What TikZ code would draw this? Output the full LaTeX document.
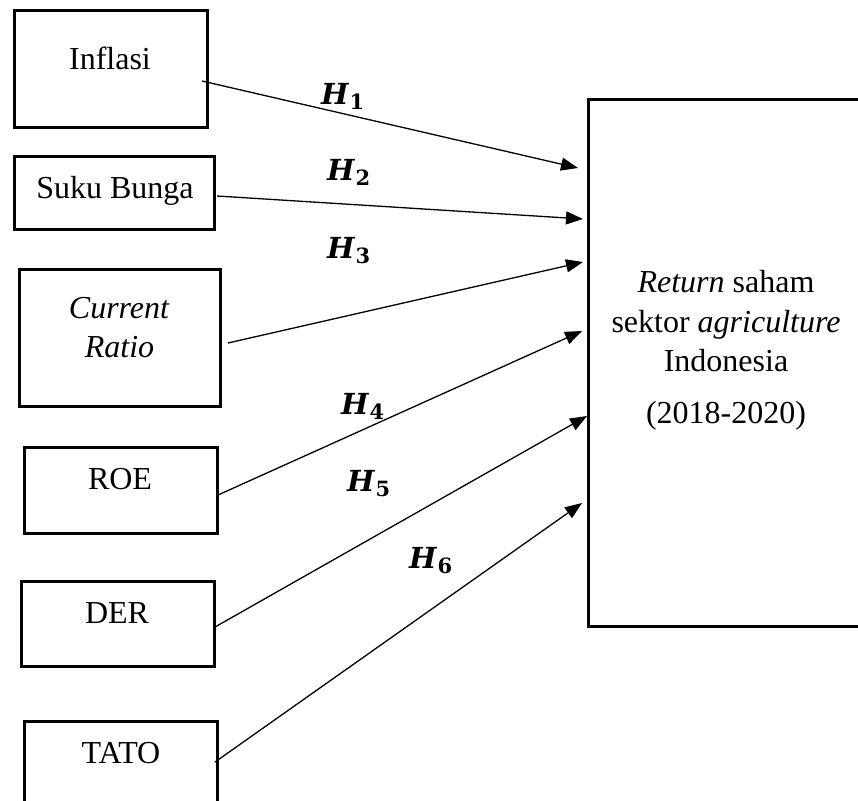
\documentclass[tikz,border=0pt]{standalone}
\usepackage{fontspec}
\setmainfont{Liberation Serif}
\newfontfamily\hypfont{DejaVu Serif}
\usetikzlibrary{arrows.meta}
\newcommand{\hyplabel}[1]{{\hypfont\bfseries\itshape H}\kern1pt{\hypfont\bfseries\fontsize{21}{24}\selectfont\raisebox{-5pt}{#1}}}
\begin{document}
\begin{tikzpicture}[x=1pt,y=-1pt,
  box/.style={draw, line width=3pt, inner sep=0pt},
  lbl/.style={font=\fontsize{32}{38}\selectfont, inner sep=0pt, anchor=base},
  hyp/.style={font=\fontsize{29}{34}\selectfont, inner sep=0pt, anchor=base west},
  link/.style={line width=1.3pt, -{Triangle[length=17pt,width=13pt]}}]
\useasboundingbox (0,0) rectangle (858,800);
\fill[white] (0,0) rectangle (858,800);
\clip (0,0) rectangle (858,800);

% boxes
\node[box, minimum width=193pt, minimum height=116pt] (inflasi) at (110.5,69) {};
\node[box, minimum width=200pt, minimum height=73pt] (suku) at (114,192.5) {};
\node[box, minimum width=201pt, minimum height=137pt] (cr) at (119.5,337.5) {};
\node[box, minimum width=193pt, minimum height=86pt] (roe) at (120.5,490) {};
\node[box, minimum width=193pt, minimum height=85pt] (der) at (117.5,623.5) {};
\node[box, minimum width=193pt, minimum height=110pt] (tato) at (120.5,776) {};
\node[box, minimum width=276pt, minimum height=527pt] (ret) at (726,362.5) {};

% texts
\node[lbl] (tinflasi) at (110,69) {Inflasi};
\node[lbl] (tsuku) at (115,198) {Suku Bunga};
\node[lbl] (tcr1) at (119,318) {\itshape Current};
\node[lbl] (tcr2) at (119.5,357) {\itshape Ratio};
\node[lbl] (troe) at (120,489) {ROE};
\node[lbl] (tder) at (117,623) {DER};
\node[lbl] (ttato) at (121,763) {TATO};
\node[lbl] (tret1) at (726,292) {\textit{Return} saham};
\node[lbl] (tret2) at (726,332) {sektor \textit{agriculture}};
\node[lbl] (tret3) at (726,371) {Indonesia};
\node[lbl] (tret4) at (726,423) {(2018-2020)};

% connector ends
\coordinate (s1) at (202,81);
\coordinate (s2) at (217,196);
\coordinate (s3) at (228,343);
\coordinate (s4) at (218,495);
\coordinate (s5) at (215,627);
\coordinate (s6) at (215,762);
\coordinate (e1) at (578,168);
\coordinate (e2) at (583,219);
\coordinate (e3) at (583,262);
\coordinate (e4) at (582,331);
\coordinate (e5) at (587,416);
\coordinate (e6) at (582,503);

\draw[link] (s1) -- (e1);
\draw[link] (s2) -- (e2);
\draw[link] (s3) -- (e3);
\draw[link] (s4) -- (e4);
\draw[link] (s5) -- (e5);
\draw[link] (s6) -- (e6);

% hypothesis labels
\node[hyp] (h1) at (321,104) {\hyplabel{1}};
\node[hyp] (h2) at (327,180) {\hyplabel{2}};
\node[hyp] (h3) at (327,258) {\hyplabel{3}};
\node[hyp] (h4) at (341,414) {\hyplabel{4}};
\node[hyp] (h5) at (347,491) {\hyplabel{5}};
\node[hyp] (h6) at (409,568) {\hyplabel{6}};
\end{tikzpicture}
\end{document}
